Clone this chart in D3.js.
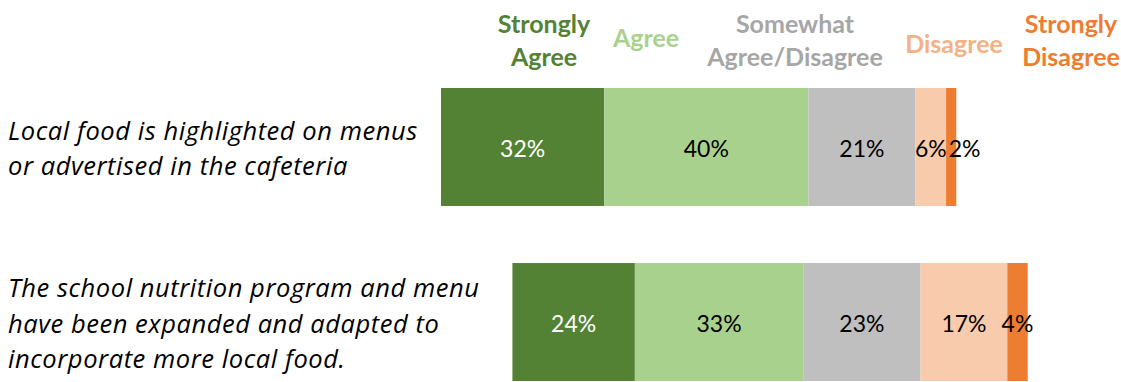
<!DOCTYPE html>
<html>
<head>
<meta charset="utf-8">
<script src="https://cdn.jsdelivr.net/npm/d3@7"></script>
<style>
  html, body { margin: 0; padding: 0; background: #ffffff; }
  svg { display: block; }
  text { font-family: Lato, "Open Sans", sans-serif; }
  text.stmt { font-family: "Open Sans", Lato, sans-serif; letter-spacing: 0.55px; }
</style>
</head>
<body>
<svg id="chart" width="1121" height="382"></svg>
<script>
// Survey statements (each entry is one wrapped line of the row label)
const statements = [
  ["Local food is highlighted on menus", "or advertised in the cafeteria"],
  ["The school nutrition program and menu", "have been expanded and adapted to", "incorporate more local food."]
];

// Response categories, in stacking order
const categories = ["Strongly Agree", "Agree", "Somewhat Agree/Disagree", "Disagree", "Strongly Disagree"];
const legendLines = [["Strongly", "Agree"], ["Agree"], ["Somewhat", "Agree/Disagree"], ["Disagree"], ["Strongly", "Disagree"]];

// Percent of respondents per category, one array per statement
const localFoodHighlighted = [32, 40, 21, 6, 2];
const programExpanded = [24, 33, 23, 17, 4];
const values = [localFoodHighlighted, programExpanded];

// Styling
const barColors = ["#548235", "#A9D18E", "#BFBFBF", "#F8CBAD", "#ED7D31"];
const legendColors = ["#548235", "#A9D18E", "#A6A6A6", "#F4B183", "#ED7D31"];
const labelColors = ["#ffffff", "#000000", "#000000", "#000000", "#000000"];
const legendCenters = [544, 646, 795, 954, 1071];

const svg = d3.select("#chart");

// Diverging scale: each bar is centred on the middle of its neutral segment
const x = d3.scaleLinear().domain([-82.5, 50]).range([441, 1117]);
const y = d3.scaleBand().domain(d3.range(statements.length)).range([88, 381]).paddingInner(0.326).paddingOuter(0);

// Build the stacked segments
const rows = values.map((vals, i) => {
  const start = -(vals[0] + vals[1] + vals[2] / 2);
  let acc = start;
  return vals.map((v, j) => {
    const seg = { row: i, cat: j, value: v, x0: acc, x1: acc + v };
    acc += v;
    return seg;
  });
});

const rowG = svg.selectAll("g.row").data(rows).join("g").attr("class", "row");

rowG.selectAll("rect")
  .data(d => d)
  .join("rect")
  .attr("x", d => x(d.x0))
  .attr("y", d => y(d.row))
  .attr("width", d => x(d.x1) - x(d.x0))
  .attr("height", y.bandwidth())
  .attr("fill", d => barColors[d.cat]);

// Value labels, nudged right where a narrow segment would make them collide
rowG.each(function(segs) {
  const g = d3.select(this);
  let prevRight = -Infinity;
  segs.forEach(d => {
    const t = g.append("text")
      .attr("y", y(d.row) + y.bandwidth() / 2 + 10)
      .attr("text-anchor", "middle")
      .attr("font-size", 23)
      .attr("fill", labelColors[d.cat])
      .text(d.value + "%");
    const w = t.node().getComputedTextLength();
    let cx = (x(d.x0) + x(d.x1)) / 2;
    if (cx - w / 2 < prevRight + 2) cx = prevRight + 2 + w / 2;
    t.attr("x", cx);
    prevRight = cx + w / 2;
  });
});

// Row labels
const lineHeight = 35.5;
svg.selectAll("text.stmt")
  .data(statements)
  .join("text")
  .attr("class", "stmt")
  .attr("font-size", 25.5)
  .attr("font-style", "italic")
  .attr("fill", "#000000")
  .each(function(lines, i) {
    const cy = y(i) + y.bandwidth() / 2;
    const first = cy - (lines.length - 1) / 2 * lineHeight + 10.5;
    d3.select(this).selectAll("tspan")
      .data(lines)
      .join("tspan")
      .attr("x", 8)
      .attr("y", (l, k) => first + k * lineHeight)
      .text(l => l);
  });

// Category legend across the top
svg.selectAll("text.legend")
  .data(categories)
  .join("text")
  .attr("class", "legend")
  .attr("font-size", 25)
  .attr("font-weight", "bold")
  .attr("text-anchor", "middle")
  .attr("fill", (d, i) => legendColors[i])
  .each(function(d, i) {
    const lines = legendLines[i];
    const base = lines.length === 2 ? 33 : (i === 1 ? 47 : 53);
    d3.select(this).selectAll("tspan")
      .data(lines)
      .join("tspan")
      .attr("x", legendCenters[i])
      .attr("y", (l, k) => base + k * 33)
      .text(l => l);
  });
</script>
</body>
</html>
